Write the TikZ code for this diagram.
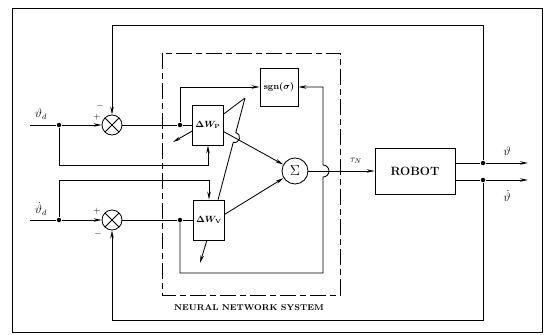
\documentclass[tikz,border=0pt]{standalone}
\usepackage{tikz}
\usetikzlibrary{arrows.meta, positioning, calc}

\begin{document}
\begin{tikzpicture}[x=1pt, y=-1pt, line width=0.85pt,
    blk/.style={draw, minimum width=31pt, minimum height=40pt, align=center, inner sep=1pt, font=\small\boldmath},
    sumx/.style={draw, circle, minimum size=20pt, inner sep=0pt,
        path picture={\draw (path picture bounding box.north west) -- (path picture bounding box.south east)
                            (path picture bounding box.north east) -- (path picture bounding box.south west);}},
    dot/.style={circle, fill, inner sep=0pt, minimum size=4.5pt},
    sgnlbl/.style={font=\small\bfseries, inner sep=0pt},
    arr/.style={-{Stealth[length=8pt, width=3.5pt]}}
]
    \useasboundingbox (0,0) rectangle (550,335);
    \draw (12,8) rectangle (542,332);

    % neural network part
    \draw[dash pattern=on 16pt off 4pt on 6pt off 4pt] (162,53) rectangle (340,295);
    \node[font=\fontsize{8.4}{10}\selectfont\bfseries] at (249,308) (nnlbl) {NEURAL NETWORK SYSTEM};

    % blocks
    \node[sumx] at (112,125) (sum1) {};
    \node[sumx] at (112,220) (sum2) {};
    \node[blk] at (208,125) (dWp) {$\Delta W_{\mathrm{P}}$};
    \node[blk] at (209,220) (dWv) {$\Delta W_{\mathrm{V}}$};
    \node[draw, minimum width=38pt, minimum height=38pt, inner sep=1pt, font=\small\boldmath] at (279,87) (sgn) {$\mathbf{sgn}(\sigma)$};
    \node[draw, circle, minimum size=26pt, inner sep=0pt] at (295,171) (sigma) {\Large$\Sigma$};
    \node[draw, minimum width=80pt, minimum height=46pt, font=\large\bfseries] at (415,171) (robot) {ROBOT};

    % junctions and free ends
    \node[dot] at (59,125) (jp) {};
    \node[dot] at (180,125) (jp2) {};
    \node[dot] at (59,220) (jv) {};
    \node[dot] at (180,220) (jv2) {};
    \node[dot] at (483,163) (jt) {};
    \node[dot] at (483,180) (jtd) {};
    \coordinate (inp) at (30,125);
    \coordinate (inv) at (30,220);
    \coordinate (outp) at (528,163);
    \coordinate (outv) at (528,180);
    \coordinate (sgnout) at (245,98);
    \coordinate (adp) at (173,142);
    \coordinate (adv) at (200,263);

    % labels
    \node[font=\large] at (41,114) (thd) {$\vartheta_{d}$};
    \node[font=\large] at (41,209) (thdd) {$\dot\vartheta_{d}$};
    \node[font=\large] at (507,151) (th) {$\vartheta$};
    \node[font=\large] at (507,196) (thdot) {$\dot\vartheta$};
    \node at (356,161) (taun) {$\tau_{N}$};
    \node[sgnlbl] at (100,106) (m1) {$-$};
    \node[sgnlbl] at (97,117) (p1) {$+$};
    \node[sgnlbl] at (97,211) (p2) {$+$};
    \node[sgnlbl] at (98,234) (m2) {$-$};

    % position loop
    \draw (inp) -- (jp);
    \draw[arr] (jp) -- (sum1);
    \draw (sum1) -- (jp2) -- (dWp);
    \draw[arr] (jp2) |- (sgn);
    \draw[arr] (jp) -- (59,165) -| (dWp);
    \draw[arr] (jt) -- (483,25) -| (sum1);

    % velocity loop
    \draw (inv) -- (jv);
    \draw[arr] (jv) -- (sum2);
    \draw (sum2) -- (jv2) -- (dWv);
    \draw[arr] (jv) -- (59,180) -| (dWv);
    \draw[arr] (jtd) -- (483,320) -| (sum2);
    \draw[arr] (jv2) |- (323,273) -- (323,177) arc[start angle=90, end angle=-90, radius=6] -- (323,87) -- (sgn);

    % sgn output and weight updates
    \draw (sgnout) -- (dWp.35);
    \draw (sgnout) -- ($(sgnout)!0.342!(dWv.66)$) .. controls +(6.5,1.7) and +(6.5,1.7) .. ($(sgnout)!0.436!(dWv.66)$) -- (dWv.66);
    \draw[arr] (dWp.-23) -- (sigma);
    \draw[arr] (dWv.20) -- (sigma);
    \draw[arr] (dWp.-159) -- (adp);
    \draw[arr] (dWv.-96) -- (adv);

    % robot
    \draw[arr] (sigma) -- (robot);
    \draw (outp -| robot.east) -- (jt);
    \draw[arr] (jt) -- (outp);
    \draw (outv -| robot.east) -- (jtd);
    \draw[arr] (jtd) -- (outv);
\end{tikzpicture}
\end{document}
